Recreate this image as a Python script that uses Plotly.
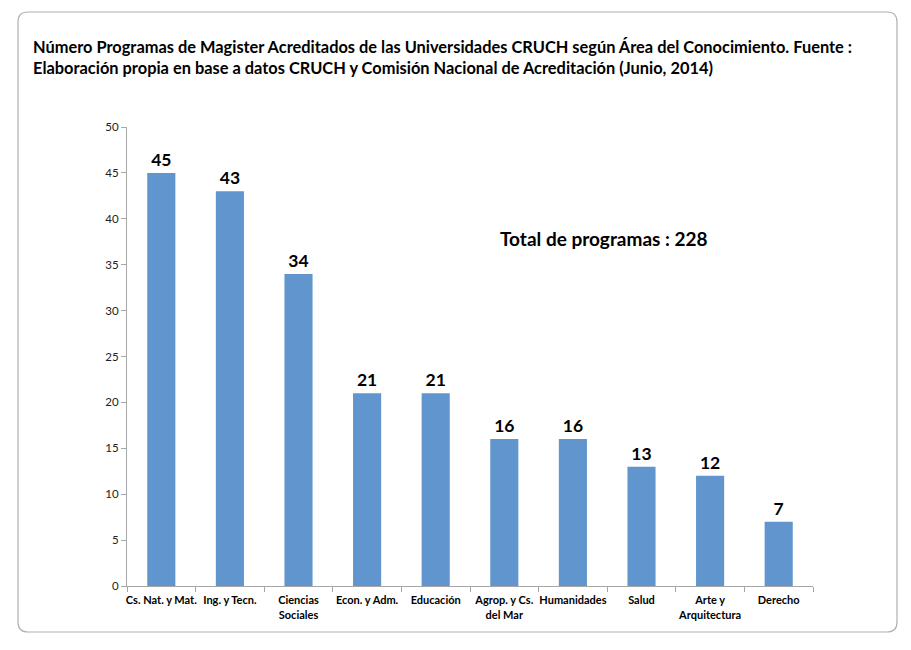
import plotly.graph_objects as go

# datos
areas = ["Cs. Nat. y Mat.", "Ing. y Tecn.", "Ciencias<br>Sociales", "Econ. y Adm.",
         "Educación", "Agrop. y Cs.<br>del Mar", "Humanidades", "Salud",
         "Arte y<br>Arquitectura", "Derecho"]
programas = [45, 43, 34, 21, 21, 16, 16, 13, 12, 7]
y_ticks = [0, 5, 10, 15, 20, 25, 30, 35, 40, 45, 50]

titulo = ("Número Programas de Magister Acreditados de las Universidades CRUCH según Área del Conocimiento. Fuente :<br>"
          "Elaboración propia en base a datos CRUCH y Comisión Nacional de Acreditación (Junio, 2014)")
total_txt = "Total de programas : 228"

fnt = "Lato"
off = 8  # page body margin of the html

fig = go.Figure(go.Bar(
    x=areas, y=programas,
    marker=dict(color="#6096CD", line=dict(width=0)),
    text=programas, textposition="outside",
    textfont=dict(family=fnt, size=17.5, color="#000000", weight="bold"),
    cliponaxis=False,
))

# plot area in page pixels: x 127-813, y 127-586
L, R, T, B = 127 - off, 813 - off, 127 - off, 586 - off
W, H = R - L, B - T

def px_x(p):
    return (p - off - L) / W

def px_y(p):
    return (B - (p - off)) / H

# rounded frame around the whole chart
x0, x1 = px_x(18), px_x(897)
y0, y1 = px_y(632), px_y(12)
rx, ry = 10 / W, 10 / H
frame = (f"M {x0+rx},{y1} L {x1-rx},{y1} Q {x1},{y1} {x1},{y1-ry} "
         f"L {x1},{y0+ry} Q {x1},{y0} {x1-rx},{y0} "
         f"L {x0+rx},{y0} Q {x0},{y0} {x0},{y0+ry} "
         f"L {x0},{y1-ry} Q {x0},{y1} {x0+rx},{y1} Z")

fig.update_layout(
    width=911, height=650,
    margin=dict(l=L, r=911 - R, t=T, b=650 - B, autoexpand=False),
    paper_bgcolor="white", plot_bgcolor="white",
    bargap=0.59,
    showlegend=False,
    title=dict(text=titulo, x=(33 - off) / 911, xanchor="left", xref="container",
               y=1 - (53 - off) / 650, yanchor="top", yref="container",
               font=dict(family=fnt, size=16.4, color="#000000", weight="bold")),
    shapes=[dict(type="path", path=frame, xref="paper", yref="paper",
                 line=dict(color="#B0B0B0", width=1.2), layer="below")],
    annotations=[dict(text=total_txt, x=px_x(498), y=px_y(238), xref="paper", yref="paper",
                      xanchor="left", yanchor="middle", showarrow=False,
                      font=dict(family=fnt, size=19, color="#000000", weight="bold"))],
)

fig.update_xaxes(
    showline=True, linecolor="#A6A6A6", linewidth=1,
    ticks="outside", tickcolor="#A6A6A6", ticklen=5, tickson="boundaries",
    tickangle=0, automargin=False, ticklabelstandoff=4,
    tickfont=dict(family=fnt, size=11, color="#000000", weight="bold"),
    showgrid=False,
)
fig.update_yaxes(
    range=[0, 50], tickvals=y_ticks, automargin=False,
    showline=True, linecolor="#A6A6A6", linewidth=1,
    ticks="outside", tickcolor="#A6A6A6", ticklen=5,
    tickfont=dict(family=fnt, size=11.5, color="#222222"),
    showgrid=False, zeroline=False,
)

fig.write_html("out.html")
